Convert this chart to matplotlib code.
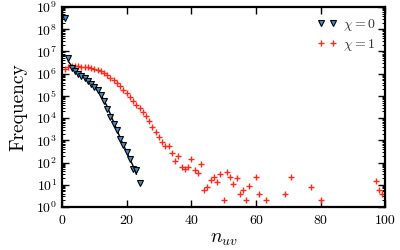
import numpy as np
import matplotlib
matplotlib.use("Agg")
from matplotlib import pyplot as plt
from matplotlib.ticker import LogLocator, LogFormatterMathtext, NullFormatter

plt.rcParams['font.family'] = 'cmr10'
plt.rcParams['mathtext.fontset'] = 'cm'
plt.rcParams['axes.unicode_minus'] = False

# chi = 0 (triangles)
x0 = [1, 2, 3, 4, 5, 6, 7, 8, 9, 10, 11, 12, 13, 14, 15, 16, 17, 18, 19, 20, 21, 22, 23, 24]
f0 = [3.2e8, 5.0e6, 1.8e6, 1.26e6, 1.0e6, 7.9e5, 6.3e5, 4.8e5, 3.5e5, 2.5e5, 1.8e5, 1.1e5,
      5.6e4, 2.5e4, 1.1e4, 5.5e3, 2.8e3, 1.2e3, 620, 310, 140, 51, 44, 12]

# black guide line along chi = 0
xl = [2, 4, 6, 8, 10, 12, 14, 16, 18, 20, 22, 23]
fl = [3.5e6, 1.4e6, 8.3e5, 5.0e5, 2.6e5, 1.15e5, 3.3e4, 6.5e3, 1.3e3, 300, 70, 30]

# chi = 1 (crosses)
x1 = list(range(1, 59)) + [60, 61, 63, 69, 71, 77, 80, 97, 98, 99]
f1 = [1.6e6, 2.1e6, 2.15e6, 2.15e6, 2.15e6, 2.1e6, 2.1e6, 2.0e6, 1.85e6, 1.65e6,
      1.45e6, 1.26e6, 1.05e6, 8.5e5, 6.6e5, 5.0e5, 3.8e5, 2.7e5, 1.9e5, 1.3e5,
      9.3e4, 5.6e4, 4.0e4, 2.8e4, 1.8e4, 1.2e4, 7.1e3, 4.0e3, 2.3e3, 1.4e3,
      810, 575, 575, 260, 112, 190, 63, 50, 63, 140,
      45, 33, 83, 6, 8, 16, 23, 13, 31, 2,
      38, 23, 11, 20, 4, 6, 2, 9,
      23, 4, 2, 4, 23, 8, 2, 15, 6, 4]

fig = plt.figure(figsize=(4, 2.5), dpi=100)
ax = fig.add_axes([0.155, 0.172, 0.808, 0.8])

ax.plot(xl, fl, color='k', lw=1.0, zorder=1)
ax.plot(x0, f0, linestyle='none', marker='v', ms=5, mfc='#3a8fc7', mec='k',
        mew=0.8, label=r'$\chi = 0$', zorder=3)
ax.plot(x1, f1, linestyle='none', marker='+', ms=4.8, mew=1.0, color='#ff2a1a',
        label=r'$\chi = 1$', zorder=2)

ax.set_yscale('log')
ax.set_xlim(0, 100)
ax.set_ylim(1, 1e9)
ax.yaxis.set_major_locator(LogLocator(base=10, numticks=12))
ax.yaxis.set_major_formatter(LogFormatterMathtext())
ax.yaxis.set_minor_locator(LogLocator(base=10, subs=np.arange(2, 10), numticks=12))
ax.yaxis.set_minor_formatter(NullFormatter())
ax.set_xticks([0, 20, 40, 60, 80, 100])

for s in ax.spines.values():
    s.set_linewidth(1.6)
ax.tick_params(which='both', direction='in', top=True, right=True, labelsize=10)
ax.tick_params(which='major', length=5, width=1.0)
ax.tick_params(which='minor', length=2.5, width=0.7)
ax.tick_params(axis='x', pad=6)

ax.set_xlabel(r'$n_{uv}$', fontsize=14, labelpad=2)
ax.set_ylabel('Frequency', fontsize=14, labelpad=6)

leg = ax.legend(loc='upper right', frameon=False, numpoints=2, fontsize=10,
                handlelength=1.5, handletextpad=0.4, borderaxespad=0.3,
                labelspacing=0.3)
for t in leg.get_texts():
    t.set_color('#333333')

fig.savefig('out.png', dpi=100)
